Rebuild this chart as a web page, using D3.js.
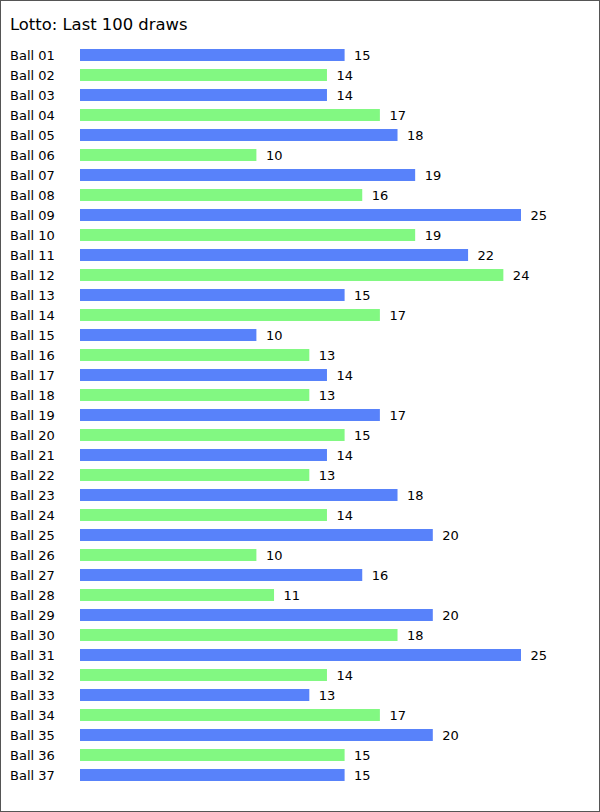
<!DOCTYPE html>
<html><head><meta charset="utf-8">
<script src="https://cdn.jsdelivr.net/npm/d3@7"></script>
<style>
html,body{margin:0;padding:0;background:#fff;}
svg{display:block;font-family:"DejaVu Sans",Verdana,sans-serif;}
</style></head>
<body>
<script>
const title = "Lotto: Last 100 draws";
const balls = ["Ball 01","Ball 02","Ball 03","Ball 04","Ball 05","Ball 06","Ball 07","Ball 08","Ball 09","Ball 10","Ball 11","Ball 12","Ball 13","Ball 14","Ball 15","Ball 16","Ball 17","Ball 18","Ball 19","Ball 20","Ball 21","Ball 22","Ball 23","Ball 24","Ball 25","Ball 26","Ball 27","Ball 28","Ball 29","Ball 30","Ball 31","Ball 32","Ball 33","Ball 34","Ball 35","Ball 36","Ball 37"];
const counts = [15,14,14,17,18,10,19,16,25,19,22,24,15,17,10,13,14,13,17,15,14,13,18,14,20,10,16,11,20,18,25,14,13,17,20,15,15];
const colors = ["#5882fa","#82f882"];

const W = 600, H = 812;
const svg = d3.select("body").append("svg").attr("width", W).attr("height", H);
svg.append("rect").attr("x",0.5).attr("y",0.5).attr("width",W-1).attr("height",H-1)
  .attr("fill","#fff").attr("stroke","#555").attr("stroke-width",1);

svg.append("text").attr("x",10).attr("y",30).attr("font-size",16.4).attr("fill","#000").text(title);

const x = d3.scaleLinear().domain([0,25]).range([80,521]);
const y = d3.scaleBand().domain(balls).range([45,785]).paddingInner(0.4).paddingOuter(0.2);

const g = svg.append("g");
const rows = g.selectAll("g.row").data(balls).join("g").attr("class","row");
rows.append("text").attr("x",10).attr("y",d=>y(d)+y.bandwidth()/2).attr("dy","0.36em")
  .attr("font-size",13).attr("fill","#000").text(d=>d);
rows.append("rect").attr("x",x(0)).attr("y",d=>y(d))
  .attr("width",(d,i)=>x(counts[i])-x(0)).attr("height",y.bandwidth())
  .attr("fill",(d,i)=>colors[i%2]);
rows.append("text").attr("x",(d,i)=>x(counts[i])+9.5).attr("y",d=>y(d)+y.bandwidth()/2).attr("dy","0.36em")
  .attr("font-size",13).attr("fill","#000").text((d,i)=>counts[i]);
</script>
</body></html>
